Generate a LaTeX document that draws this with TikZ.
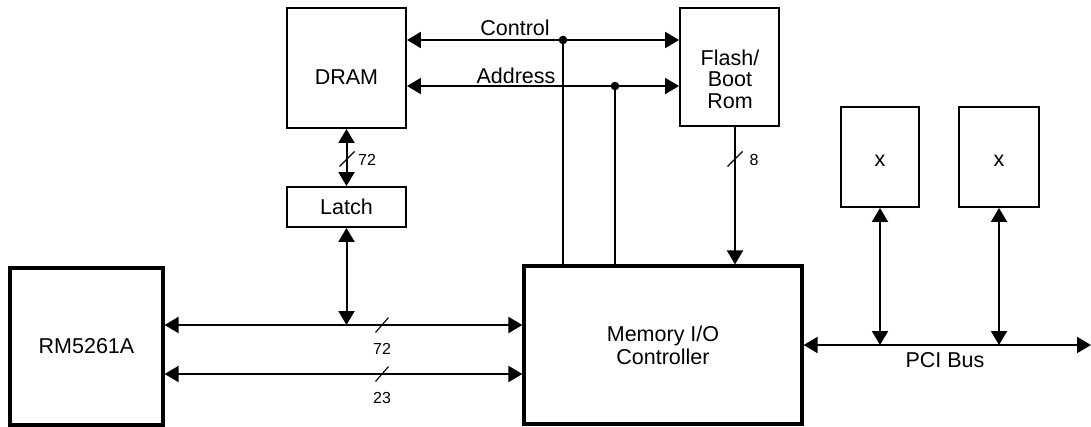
\documentclass[tikz,border=0pt]{standalone}
\usepackage{fontspec}
\setmainfont{Liberation Sans}
\usetikzlibrary{arrows.meta}
\begin{document}
\begin{tikzpicture}[x=1pt,y=-1pt,
  thinbox/.style={draw, line width=1.9pt, inner sep=0pt},
  thickbox/.style={draw, line width=3.2pt, inner sep=0pt},
  bigtext/.style={font=\fontsize{21.5}{23}\selectfont, align=center, inner sep=0pt},
  smalltext/.style={font=\fontsize{16}{18}\selectfont, inner sep=0pt},
  wire/.style={line width=2pt},
  tip/.tip={Triangle[length=14pt,width=16pt]},
  biarr/.style={wire, tip-tip},
  onearr/.style={wire, -tip},
  slashmark/.style={line width=1.1pt}
]
\useasboundingbox (0,0) rectangle (1091,426);

% boxes
\node[thinbox, minimum width=119pt, minimum height=120pt] (dram) at (346.5,68) {};
\node[bigtext] (dramtext) at (346.5,77) {DRAM};
\node[thinbox, minimum width=99pt, minimum height=118pt] (flash) at (729.5,67) {};
\node[bigtext, font=\fontsize{21.5}{21.5}\selectfont] (flashtext) at (730,79) {Flash/\\Boot\\Rom};
\node[thinbox, bigtext, draw, line width=1.9pt, minimum width=119pt, minimum height=40pt] (latch) at (346.5,207) {Latch};
\node[thickbox, bigtext, draw, line width=3.2pt, minimum width=153pt, minimum height=157pt] (rm) at (86.5,346.5) {RM5261A};
\node[thickbox, bigtext, draw, line width=3.2pt, minimum width=278pt, minimum height=158pt] (mem) at (663,345) {Memory I/O\\Controller};
\node[thinbox, minimum width=78pt, minimum height=100pt] (xa) at (880,157) {};
\node[bigtext] (xatext) at (880,161) {x};
\node[thinbox, minimum width=80pt, minimum height=100pt] (xb) at (999,157) {};
\node[bigtext] (xbtext) at (999,161) {x};

% coordinates
\coordinate (ctl) at (563,40);
\coordinate (adr) at (615,86);
\coordinate (b1) at (346.5,325);
\coordinate (b2) at (346.5,374);
\coordinate (f8) at (735,126);
\coordinate (pcir) at (1091,345);

% control / address
\draw[biarr] (dram.east |- ctl) -- (flash.west |- ctl);
\draw[biarr] (dram.east |- adr) -- (flash.west |- adr);
\draw[wire] (ctl) -- (ctl |- mem.north);
\draw[wire] (adr) -- (adr |- mem.north);
\fill (ctl) circle (4.3pt);
\fill (adr) circle (4.3pt);
\node[bigtext, anchor=base] (ctltext) at (515,35) {Control};
\node[bigtext, anchor=base] (adrtext) at (516,83) {Address};

% DRAM - latch
\draw[biarr] (dram.south) -- (latch.north);
\coordinate (s1) at (347,159);
\draw[slashmark] (s1) ++(-7.5,7.5) -- ++(15,-15);
\node[smalltext] (l72a) at (367,160) {72};

% latch - bus
\draw[biarr] (latch.south) -- (b1);

% buses
\draw[biarr] (rm.east |- b1) -- (mem.west |- b1);
\draw[biarr] (rm.east |- b2) -- (mem.west |- b2);
\coordinate (s2) at (382,325);
\coordinate (s3) at (382,374);
\draw[slashmark] (s2) ++(-6.5,7.5) -- ++(13,-15);
\draw[slashmark] (s3) ++(-6.5,7.5) -- ++(13,-15);
\node[smalltext] (l72b) at (382,349) {72};
\node[smalltext] (l23) at (382,398) {23};

% flash - memory
\draw[onearr] (f8) -- (f8 |- mem.north);
\coordinate (s4) at (735,159);
\draw[slashmark] (s4) ++(-7.5,7.5) -- ++(15,-15);
\node[smalltext] (l8) at (754,160) {8};

% PCI bus
\draw[biarr] (mem.east |- pcir) -- (pcir);
\draw[biarr] (xa.south) -- (xa.south |- pcir);
\draw[biarr] (xb.south) -- (xb.south |- pcir);
\node[bigtext] (pcitext) at (945,360) {PCI Bus};
\end{tikzpicture}
\end{document}
